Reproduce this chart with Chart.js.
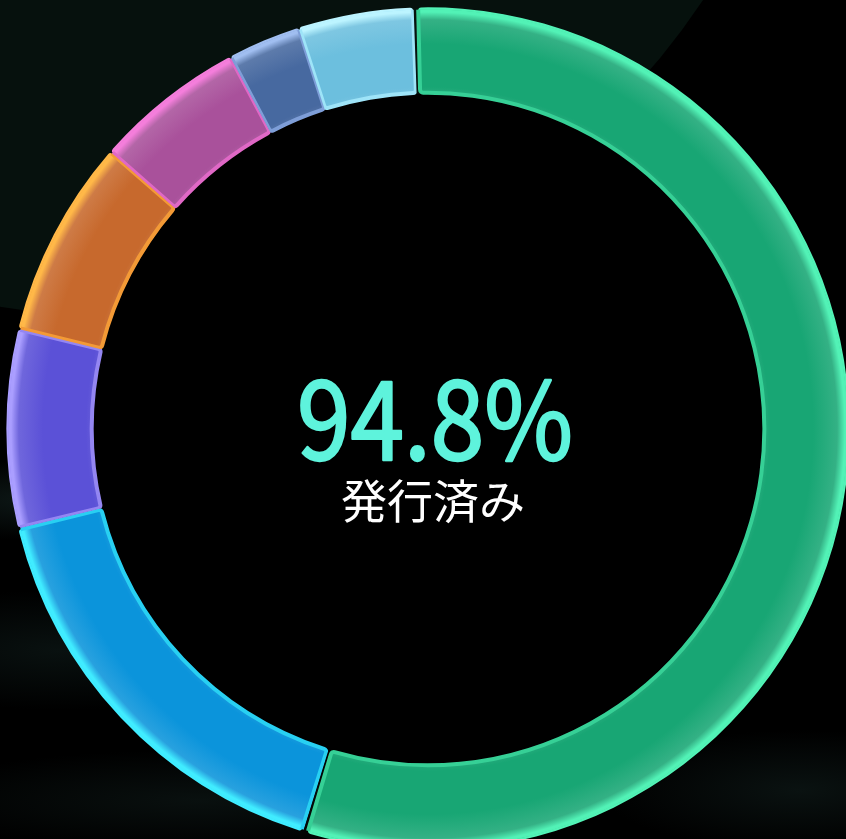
<!DOCTYPE html>
<html lang="ja">
<head>
<meta charset="utf-8">
<script src="https://cdn.jsdelivr.net/npm/chart.js@4/dist/chart.umd.min.js"></script>
<style>
  html, body { margin:0; padding:0; width:846px; height:839px; overflow:hidden; background:#000; }
  #bgShape { position:absolute; left:-593px; top:-1098px; width:1414px; height:1414px; border-radius:50%; background:#06110d; }
  #haze { position:absolute; left:0; top:0; width:846px; height:839px;
    background:
      radial-gradient(ellipse 160px 40px at 40px 500px, rgba(24,44,42,0.55), rgba(0,0,0,0) 100%),
      radial-gradient(ellipse 220px 60px at 60px 650px, rgba(18,34,32,0.5), rgba(0,0,0,0) 100%),
      radial-gradient(ellipse 300px 50px at 200px 800px, rgba(18,32,30,0.5), rgba(0,0,0,0) 100%),
      radial-gradient(ellipse 200px 60px at 800px 790px, rgba(20,36,34,0.5), rgba(0,0,0,0) 100%);
  }
  #c { position:absolute; left:6px; top:7px; }
</style>
</head>
<body>
<div id="bgShape"></div>
<div id="haze"></div>
<canvas id="c" width="844" height="844"></canvas>
<script>
// ---- data ----
const categories = ["区分A", "区分B", "区分C", "区分D", "区分E", "区分F", "区分G"];
const shares = [55.3, 16.4, 7.6, 7.6, 5.8, 2.8, 4.4];
const centerValue = "94.8%";
const centerLabel = "発行済み";

// ---- styles ----
const baseColors  = ["#18a674", "#0b94db", "#5b51d7", "#c7692d", "#a9519b", "#4769a0", "#6cbfde"];
const edgeColors  = ["#52f2b6", "#40ecff", "#aa9eff", "#ffb848", "#f47edb", "#a0bef0", "#bcf4ff"];
const borderCols  = ["#36d096", "#28d0f2", "#9486f2", "#f39a36", "#e068c6", "#7e9ed8", "#9ee4f8"];

function lighten(hex, amt) {
  const n = parseInt(hex.slice(1), 16);
  let r = (n >> 16) & 255, g = (n >> 8) & 255, b = n & 255;
  r = Math.round(r + (255 - r) * amt); g = Math.round(g + (255 - g) * amt); b = Math.round(b + (255 - b) * amt);
  return `rgb(${r},${g},${b})`;
}

function ringGeom(chart) {
  const meta = chart.getDatasetMeta(0);
  const ctrl = meta.controller;
  const area = chart.chartArea;
  const cx = (area.left + area.right) / 2 + (ctrl.offsetX || 0);
  const cy = (area.top + area.bottom) / 2 + (ctrl.offsetY || 0);
  return { cx, cy, inner: ctrl.innerRadius, outer: ctrl.outerRadius };
}

function ringFill(ctx) {
  const i = ctx.dataIndex;
  const chart = ctx.chart;
  if (!chart.chartArea) return baseColors[i];
  const { cx, cy, inner, outer } = ringGeom(chart);
  if (!outer || !(outer > inner)) return baseColors[i];
  const g = chart.ctx.createRadialGradient(cx, cy, inner, cx, cy, outer);
  const b = baseColors[i];
  g.addColorStop(0, lighten(b, 0.08));
  g.addColorStop(0.1, b);
  g.addColorStop(0.6, b);
  g.addColorStop(0.88, lighten(b, 0.12));
  g.addColorStop(0.97, edgeColors[i]);
  g.addColorStop(1, edgeColors[i]);
  return g;
}

const holeAndText = {
  id: 'holeAndText',
  beforeDatasetsDraw(chart) {
    const { cx, cy, inner } = ringGeom(chart);
    const ctx = chart.ctx;
    ctx.save();
    ctx.fillStyle = '#000';
    ctx.beginPath();
    ctx.arc(cx, cy, inner + 2, 0, Math.PI * 2);
    ctx.fill();
    ctx.restore();
  },
  afterDraw(chart) {
    const { cx, cy } = ringGeom(chart);
    const ctx = chart.ctx;
    ctx.save();
    ctx.textAlign = 'center';
    ctx.textBaseline = 'alphabetic';
    ctx.fillStyle = '#5ef3dc';
    ctx.strokeStyle = '#5ef3dc';
    ctx.lineWidth = 2.4;
    ctx.lineJoin = 'round';
    ctx.font = 'normal 107px "Noto Sans CJK JP", "Noto Sans", sans-serif';
    ctx.translate(cx + 7, cy + 31);
    ctx.scale(0.9, 1);
    ctx.fillText(centerValue, 0, 0);
    ctx.strokeText(centerValue, 0, 0);
    ctx.restore();
    ctx.save();
    ctx.textAlign = 'center';
    ctx.textBaseline = 'alphabetic';
    ctx.fillStyle = '#ffffff';
    ctx.font = 'normal 46px "Noto Sans CJK JP", sans-serif';
    ctx.fillText(centerLabel, cx + 5, cy + 89);
    ctx.restore();
  }
};

new Chart(document.getElementById('c'), {
  type: 'doughnut',
  data: {
    labels: categories,
    datasets: [{
      data: shares,
      backgroundColor: ringFill,
      borderColor: borderCols,
      borderWidth: 2,
      borderAlign: 'inner',
      borderRadius: 3,
      spacing: 5
    }]
  },
  options: {
    responsive: false,
    animation: false,
    rotation: -2,
    cutout: '79.5%',
    layout: { padding: 0 },
    plugins: { legend: { display: false }, tooltip: { enabled: false } }
  },
  plugins: [holeAndText]
});
</script>
</body>
</html>
